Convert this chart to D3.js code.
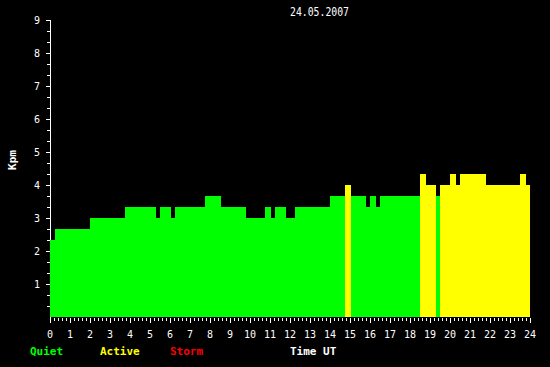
<!DOCTYPE html>
<html lang="en">
<head>
  <meta charset="UTF-8">
  <title>Kpm 24.05.2007</title>
  <script src="https://d3js.org/d3.v7.min.js"></script>
  <style>
    body { margin: 0; background: #000; }
    text { font-family: "DejaVu Sans Mono", monospace; fill: #fff; }
  </style>
</head>
<body>
  <div id="chart"></div>
  <script>
    // step start times (hours UT) and Kpm value held until the next step
    const stepStart = [0, 0.25, 2.0, 3.75, 5.3, 5.5, 6.05, 6.25, 7.75, 8.55, 9.8, 10.75, 11.05, 11.25,
                       11.8, 12.25, 14.0, 14.75, 15.05, 15.8, 16.0, 16.3, 16.5, 18.5, 18.8, 19.3, 19.5,
                       20.0, 20.3, 20.5, 21.8, 23.5, 23.8];
    const stepEnd = 24;
    const kpm = [2.33, 2.67, 3.0, 3.33, 3.0, 3.33, 3.0, 3.33, 3.67, 3.33, 3.0, 3.33, 3.0, 3.33,
                 3.0, 3.33, 3.67, 4.0, 3.67, 3.33, 3.67, 3.33, 3.67, 4.33, 4.0, 3.67, 4.0,
                 4.33, 4.0, 4.33, 4.0, 4.33, 4.0];
    const hourTicks = d3.range(0, 25);
    const kpTicks = d3.range(1, 10);
    const legend = [
      { label: "Quiet", color: "#00ff00" },
      { label: "Active", color: "#ffff00" },
      { label: "Storm", color: "#ff0000" }
    ];

    const W = 550, H = 367;
    const svg = d3.select("#chart").append("svg")
      .attr("width", W).attr("height", H)
      .style("background", "#000");

    const x = d3.scaleLinear().domain([0, 24]).range([50, 530]);
    const y = d3.scaleLinear().domain([0, 9]).range([317, 20]);

    const color = v => v >= 5 ? "#ff0000" : v >= 4 ? "#ffff00" : "#00ff00";

    const steps = stepStart.map((t, i) => ({
      t0: t, t1: i < stepStart.length - 1 ? stepStart[i + 1] : stepEnd, v: kpm[i]
    }));

    // y axis line + ticks
    svg.append("line")
      .attr("x1", 50.5).attr("x2", 50.5).attr("y1", y(9)).attr("y2", y(0) + 1)
      .attr("stroke", "#fff");

    const minorY = d3.range(1, 28).map(d => d / 3);
    svg.append("g").selectAll("line").data(minorY).join("line")
      .attr("x1", d => Math.abs(d - Math.round(d)) < 0.01 ? 46 : 47).attr("x2", 50)
      .attr("y1", d => Math.round(y(d)) + 0.5).attr("y2", d => Math.round(y(d)) + 0.5)
      .attr("stroke", "#fff");

    svg.append("g").selectAll("text").data(kpTicks).join("text")
      .attr("x", 40).attr("y", d => Math.round(y(d)) + 4)
      .attr("text-anchor", "end")
      .style("font-size", "10px")
      .text(d => d);

    // bars
    svg.append("g").selectAll("rect").data(steps).join("rect")
      .attr("x", d => Math.round(x(d.t0)))
      .attr("width", d => Math.round(x(d.t1)) - Math.round(x(d.t0)))
      .attr("y", d => Math.round(y(d.v)))
      .attr("height", d => y(0) - Math.round(y(d.v)))
      .attr("fill", d => color(d.v))
      .attr("shape-rendering", "crispEdges");

    // x ticks: 12-minute minor ticks
    const minorX = d3.range(0, 121).map(d => d / 5);
    svg.append("g").selectAll("line").data(minorX).join("line")
      .attr("x1", d => Math.round(x(d)) + 0.5).attr("x2", d => Math.round(x(d)) + 0.5)
      .attr("y1", 318).attr("y2", d => Math.abs(d - Math.round(d)) < 0.01 ? 323 : 321)
      .attr("stroke", "#fff");

    svg.append("g").selectAll("text").data(hourTicks).join("text")
      .attr("x", d => x(d)).attr("y", 338)
      .attr("text-anchor", "middle")
      .style("font-size", "10px")
      .text(d => d);

    // title
    svg.append("text")
      .attr("x", 290).attr("y", 16)
      .attr("textLength", 59).attr("lengthAdjust", "spacingAndGlyphs")
      .style("font-size", "12px")
      .text("24.05.2007");

    // y label
    svg.append("text")
      .attr("transform", "translate(16,160) rotate(-90)")
      .attr("text-anchor", "middle")
      .style("font-size", "11px").style("font-weight", "bold")
      .text("Kpm");

    // legend
    const legendX = [30, 100, 170];
    svg.append("g").selectAll("text").data(legend).join("text")
      .attr("x", (d, i) => legendX[i]).attr("y", 355)
      .style("font-size", "11px").style("font-weight", "bold")
      .style("fill", d => d.color)
      .text(d => d.label);

    svg.append("text")
      .attr("x", 290).attr("y", 355)
      .style("font-size", "11px").style("font-weight", "bold")
      .text("Time UT");
  </script>
</body>
</html>
